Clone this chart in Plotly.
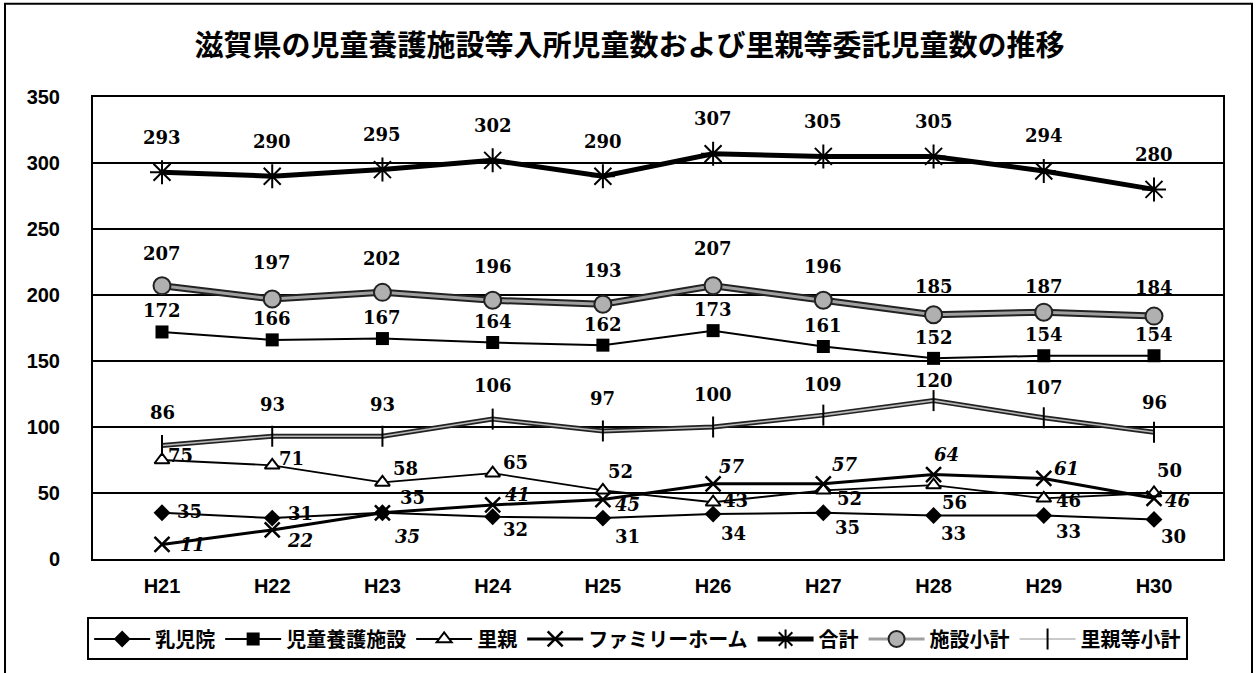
import plotly.graph_objects as go

years = ["H21", "H22", "H23", "H24", "H25", "H26", "H27", "H28", "H29", "H30"]
nyujiin = [35, 31, 35, 32, 31, 34, 35, 33, 33, 30]
jidou_yougo = [172, 166, 167, 164, 162, 173, 161, 152, 154, 154]
satooya = [75, 71, 58, 65, 52, 43, 52, 56, 46, 50]
family_home = [11, 22, 35, 41, 45, 57, 57, 64, 61, 46]
goukei = [293, 290, 295, 302, 290, 307, 305, 305, 294, 280]
shisetsu_shoukei = [207, 197, 202, 196, 193, 207, 196, 185, 187, 184]
satooya_shoukei = [86, 93, 93, 106, 97, 100, 109, 120, 107, 96]

# label offsets in pixels (dx right, dy down)
off_nyujiin = [(27, -1), (28, -5), (30, -15), (23, 13), (25, 18), (20, 19), (24, 15), (20, 18), (25, 16), (19, 17)]
off_satooya = [(18, -5), (19, -7), (23, -14), (23, -11), (18, -19), (22, -2), (26, 8), (21, 17), (25, 2), (15, -23)]
off_fh = [(30, 0), (28, 11), (25, 24), (25, -10), (25, 5), (19, -17), (22, -19), (13, -20), (23, -10), (24, 2)]
off_jidou = [(0, -21)] * 10
off_goukei = [(0, -35)] * 10
off_shisetsu = [(0, -32), (0, -36), (0, -34), (0, -34), (0, -34), (0, -37), (0, -34), (0, -28), (0, -26), (0, -29)]
off_satooya_s = [(0, -33), (0, -32), (0, -32), (0, -34), (0, -32), (0, -33), (0, -31), (0, -20), (0, -30), (0, -30)]

fig = go.Figure()

# outlines for double lines
fig.add_trace(go.Scatter(x=years, y=shisetsu_shoukei, mode="lines",
                         line=dict(color="#222", width=7), showlegend=False, hoverinfo="skip"))
fig.add_trace(go.Scatter(x=years, y=satooya_shoukei, mode="lines",
                         line=dict(color="#222", width=5), showlegend=False, hoverinfo="skip"))

fig.add_trace(go.Scatter(x=years, y=nyujiin, name="乳児院", mode="lines+markers",
                         line=dict(color="black", width=2),
                         marker=dict(symbol="diamond", size=13, color="black")))
fig.add_trace(go.Scatter(x=years, y=jidou_yougo, name="児童養護施設", mode="lines+markers",
                         line=dict(color="black", width=2),
                         marker=dict(symbol="square", size=13, color="black")))
fig.add_trace(go.Scatter(x=years, y=satooya, name="里親", mode="lines+markers",
                         line=dict(color="black", width=1.8),
                         marker=dict(symbol="triangle-up", size=13, color="white",
                                     line=dict(color="black", width=2))))
fig.add_trace(go.Scatter(x=years, y=family_home, name="ファミリーホーム", mode="lines+markers",
                         line=dict(color="black", width=3),
                         marker=dict(symbol="x-thin", size=15, color="black",
                                     line=dict(color="black", width=2.5))))
fig.add_trace(go.Scatter(x=years, y=goukei, name="合計", mode="lines+markers",
                         line=dict(color="black", width=5),
                         marker=dict(symbol="asterisk", size=20, color="black",
                                     line=dict(color="black", width=2))))
fig.add_trace(go.Scatter(x=years, y=shisetsu_shoukei, name="施設小計", mode="lines+markers",
                         line=dict(color="#a0a0a0", width=3),
                         marker=dict(symbol="circle", size=17, color="#b0b0b0",
                                     line=dict(color="#222", width=2))))
fig.add_trace(go.Scatter(x=years, y=satooya_shoukei, name="里親等小計", mode="lines+markers",
                         line=dict(color="#b8b8b8", width=1.6),
                         marker=dict(symbol="line-ns", size=15, color="black",
                                     line=dict(color="black", width=2))))

label_font = dict(family="DejaVu Serif", size=18, color="black", weight="bold")
italic_font = dict(family="DejaVu Serif", size=18, color="black", weight="bold", style="italic")

annotations = []
def add_labels(values, offsets, font):
    for yr, v, (dx, dy) in zip(years, values, offsets):
        annotations.append(dict(x=yr, y=v, xref="x", yref="y", text=str(v), showarrow=False,
                                xanchor="center", yanchor="middle", xshift=dx, yshift=-dy,
                                font=font))

add_labels(goukei, off_goukei, label_font)
add_labels(shisetsu_shoukei, off_shisetsu, label_font)
add_labels(jidou_yougo, off_jidou, label_font)
add_labels(satooya_shoukei, off_satooya_s, label_font)
add_labels(satooya, off_satooya, label_font)
add_labels(family_home, off_fh, italic_font)
add_labels(nyujiin, off_nyujiin, label_font)

fig.update_layout(
    width=1259, height=673,
    margin=dict(l=93, r=36, t=97, b=110),
    paper_bgcolor="white", plot_bgcolor="white",
    title=dict(text="滋賀県の児童養護施設等入所児童数および里親等委託児童数の推移",
               x=0.5, xref="container", xanchor="center",
               y=1 - 46 / 673, yref="container", yanchor="middle",
               font=dict(family="Noto Sans CJK JP", size=29, color="black", weight="bold")),
    annotations=annotations,
    showlegend=True,
    legend=dict(orientation="h", x=0.482, xanchor="center", y=-0.1266, yanchor="top",
                bordercolor="black", borderwidth=2, bgcolor="white",
                itemwidth=56, traceorder="normal",
                font=dict(family="Noto Sans CJK JP", size=20, color="black", weight="bold")),
    shapes=[dict(type="rect", xref="paper", yref="paper",
                 x0=(5 - 93) / 1130, x1=(1252 - 93) / 1130,
                 y0=(563 - 720) / 466, y1=(563 - 3) / 466,
                 line=dict(color="black", width=2), layer="below")],
)

fig.update_xaxes(type="category", showline=True, linecolor="black", linewidth=2, mirror=True,
                 showgrid=False, ticks="", ticklabelstandoff=8,
                 tickfont=dict(family="Liberation Sans", size=20, color="black", weight="bold"))
fig.update_yaxes(range=[0, 350], dtick=50, showline=True, linecolor="black", linewidth=2, mirror=True,
                 showgrid=True, gridcolor="black", gridwidth=1.8, zeroline=False, ticks="",
                 ticklabelstandoff=27,
                 tickfont=dict(family="Liberation Sans", size=20, color="black", weight="bold"))

fig.write_html("out.html", config={"displayModeBar": False},
               post_script="document.body.style.margin='0';document.body.style.padding='0';"
                           "document.body.style.overflow='hidden';")
